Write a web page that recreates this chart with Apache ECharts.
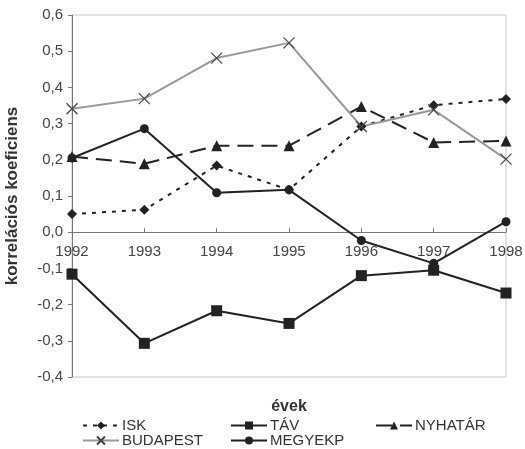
<!DOCTYPE html>
<html><head><meta charset="utf-8">
<script src="https://cdn.jsdelivr.net/npm/echarts@6/dist/echarts.min.js"></script>
<style>html,body{margin:0;padding:0;background:#fff}#c{width:525px;height:449px}</style>
</head><body><div id="c"></div>
<script>
const years = ['1992','1993','1994','1995','1996','1997','1998'];
const isk = [0.05, 0.062, 0.184, 0.117, 0.292, 0.351, 0.368];
const tav = [-0.116, -0.307, -0.217, -0.252, -0.12, -0.105, -0.168];
const nyhatar = [0.209, 0.189, 0.239, 0.239, 0.347, 0.248, 0.252];
const budapest = [0.341, 0.369, 0.481, 0.523, 0.292, 0.338, 0.202];
const megyekp = [0.205, 0.286, 0.109, 0.117, -0.023, -0.086, 0.029];
const yTicks = {min: -0.4, max: 0.6, step: 0.1};

const FONT = 'Liberation Sans, Arial, sans-serif';
const crossPath = 'path://M0,0L10,10M10,0L0,10';
const G = {left:72, right:19, top:15, bottom:72};
const H = 449;
const gridH = H - G.top - G.bottom;
const zeroOffset = -gridH * (0 - yTicks.min) / (yTicks.max - yTicks.min);
const chart = echarts.init(document.getElementById('c'), null, {renderer:'canvas'});
function lg(name, left, top){
  return {data:[name], left:left, top:top, itemWidth:36, itemHeight:10, itemGap:0,
    textStyle:{fontFamily:FONT, fontSize:15, color:'#333', padding:[0,0,0,-2]}, padding:0};
}
chart.setOption({
  animation:false,
  backgroundColor:'#fff',
  grid:Object.assign({containLabel:false, outerBoundsMode:'none',
    show:true, borderColor:'#c8c8c8', borderWidth:1}, G),
  legend:[lg('ISK',82,418), lg('TÁV',230,418), lg('NYHATÁR',375,418), lg('BUDAPEST',82,433), lg('MEGYEKP',230,433)],
  xAxis:{type:'category', data:years, boundaryGap:false, position:'bottom', offset:zeroOffset,
    name:'évek', nameLocation:'middle', nameGap:166,
    nameTextStyle:{fontFamily:FONT, fontSize:16, fontWeight:'bold', color:'#333'},
    axisLine:{onZero:false, lineStyle:{color:'#777', width:1}},
    axisTick:{inside:true, length:4, lineStyle:{color:'#777'}},
    axisLabel:{fontFamily:FONT, fontSize:15, color:'#444', margin:12}},
  yAxis:{type:'value', min:yTicks.min, max:yTicks.max, interval:yTicks.step,
    name:'korrelációs koeficiens', nameLocation:'middle', nameGap:51,
    nameTextStyle:{fontFamily:FONT, fontSize:17, fontWeight:'bold', color:'#333'},
    splitLine:{show:false},
    axisLine:{show:true, onZero:false, lineStyle:{color:'#777', width:1}},
    axisTick:{show:true, length:4, lineStyle:{color:'#777'}},
    axisLabel:{fontFamily:FONT, fontSize:15, color:'#444', margin:9,
      formatter:v=>v.toFixed(1).replace('.',',')}},
  series:[
    {name:'ISK', type:'line', data:isk, symbol:'diamond', symbolSize:10,
      itemStyle:{color:'#222'}, lineStyle:{color:'#222', width:2, type:[4,6]}},
    {name:'TÁV', type:'line', data:tav, symbol:'rect', symbolSize:11,
      itemStyle:{color:'#222'}, lineStyle:{color:'#222', width:2}},
    {name:'NYHATÁR', type:'line', data:nyhatar, symbol:'triangle', symbolSize:11,
      itemStyle:{color:'#222'}, lineStyle:{color:'#222', width:2, type:[16,8]}},
    {name:'BUDAPEST', type:'line', data:budapest, symbol:crossPath, symbolSize:11,
      itemStyle:{color:'#555', borderColor:'#444', borderWidth:1.2}, lineStyle:{color:'#999', width:2}},
    {name:'MEGYEKP', type:'line', data:megyekp, symbol:'circle', symbolSize:9,
      itemStyle:{color:'#222'}, lineStyle:{color:'#222', width:2}}
  ]
});
</script></body></html>
